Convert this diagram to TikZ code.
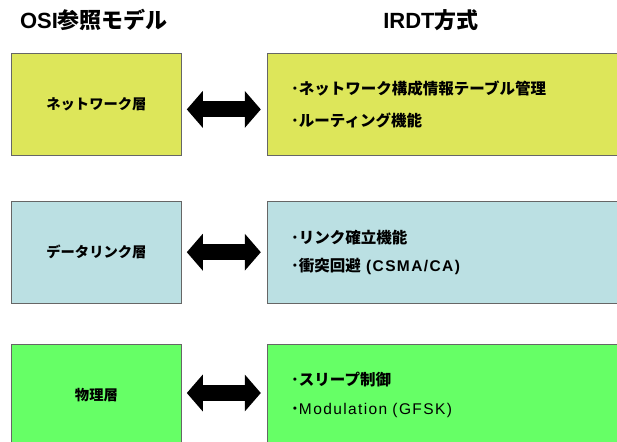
\documentclass[tikz,border=0pt]{standalone}
\usepackage{fontspec}
\setmainfont{Noto Sans CJK JP}
\newfontfamily\arialfont{Liberation Sans}
\newfontfamily\arialwide[LetterSpace=9]{Liberation Sans}
\usetikzlibrary{arrows.meta, positioning}

\definecolor{netcol}{RGB}{221,230,90}
\definecolor{datacol}{RGB}{187,224,227}
\definecolor{phycol}{RGB}{102,255,102}

\begin{document}
\begin{tikzpicture}[x=1pt, y=-1pt,
    layerbox/.style={draw=black!60, line width=0.8pt, minimum width=170pt, minimum height=102pt, inner sep=0pt, font=\fontsize{14.3}{17}\selectfont\bfseries},
    funcbox/.style={draw=black!60, line width=0.8pt, minimum height=102pt, text width=311pt, inner xsep=24pt, inner ysep=0pt, align=left, font=\fontsize{15.5}{28.5}\selectfont\bfseries},
    headline/.style={font=\fontsize{22}{26}\selectfont\bfseries},
    fatarrow/.style={line width=16pt, {Triangle[length=16pt,width=36pt]}-{Triangle[length=16pt,width=36pt]}, shorten <=5pt, shorten >=6pt}]
    \useasboundingbox (0,0) rectangle (617,441);
    \clip (0,0) rectangle (617,441);

    % headings
    \node (osi) [headline] at (94,20) {{\arialfont OSI}参照モデル};
    \node (irdt) [headline] at (431,20) {{\arialfont IRDT}方式};

    % OSI layers
    \node (net) [layerbox, fill=netcol, anchor=north west] at (11,53) {ネットワーク層};
    \node (dll) [layerbox, fill=datacol, below=45pt of net] {データリンク層};
    \node (phy) [layerbox, fill=phycol, below=40pt of dll] {物理層};

    % IRDT functions
    \node (netf) [funcbox, fill=netcol, right=85pt of net] {\rule{0pt}{9pt}･ネットワーク構成情報テーブル管理\\[3pt]･ルーティング機能};
    \node (dllf) [funcbox, fill=datacol, right=85pt of dll] {･リンク確立機能\\･衝突回避 {\arialwide (CSMA/CA)}};
    \node (phyf) [funcbox, fill=phycol, right=85pt of phy] {･スリープ制御\\･{\arialwide\mdseries Modulation (GFSK)}};

    \draw[fatarrow] ([yshift=-5pt]net.east) -- ([yshift=-5pt]netf.west);
    \draw[fatarrow] (dll) -- (dllf);
    \draw[fatarrow] ([yshift=2pt]phy.east) -- ([yshift=2pt]phyf.west);

\end{tikzpicture}
\end{document}
